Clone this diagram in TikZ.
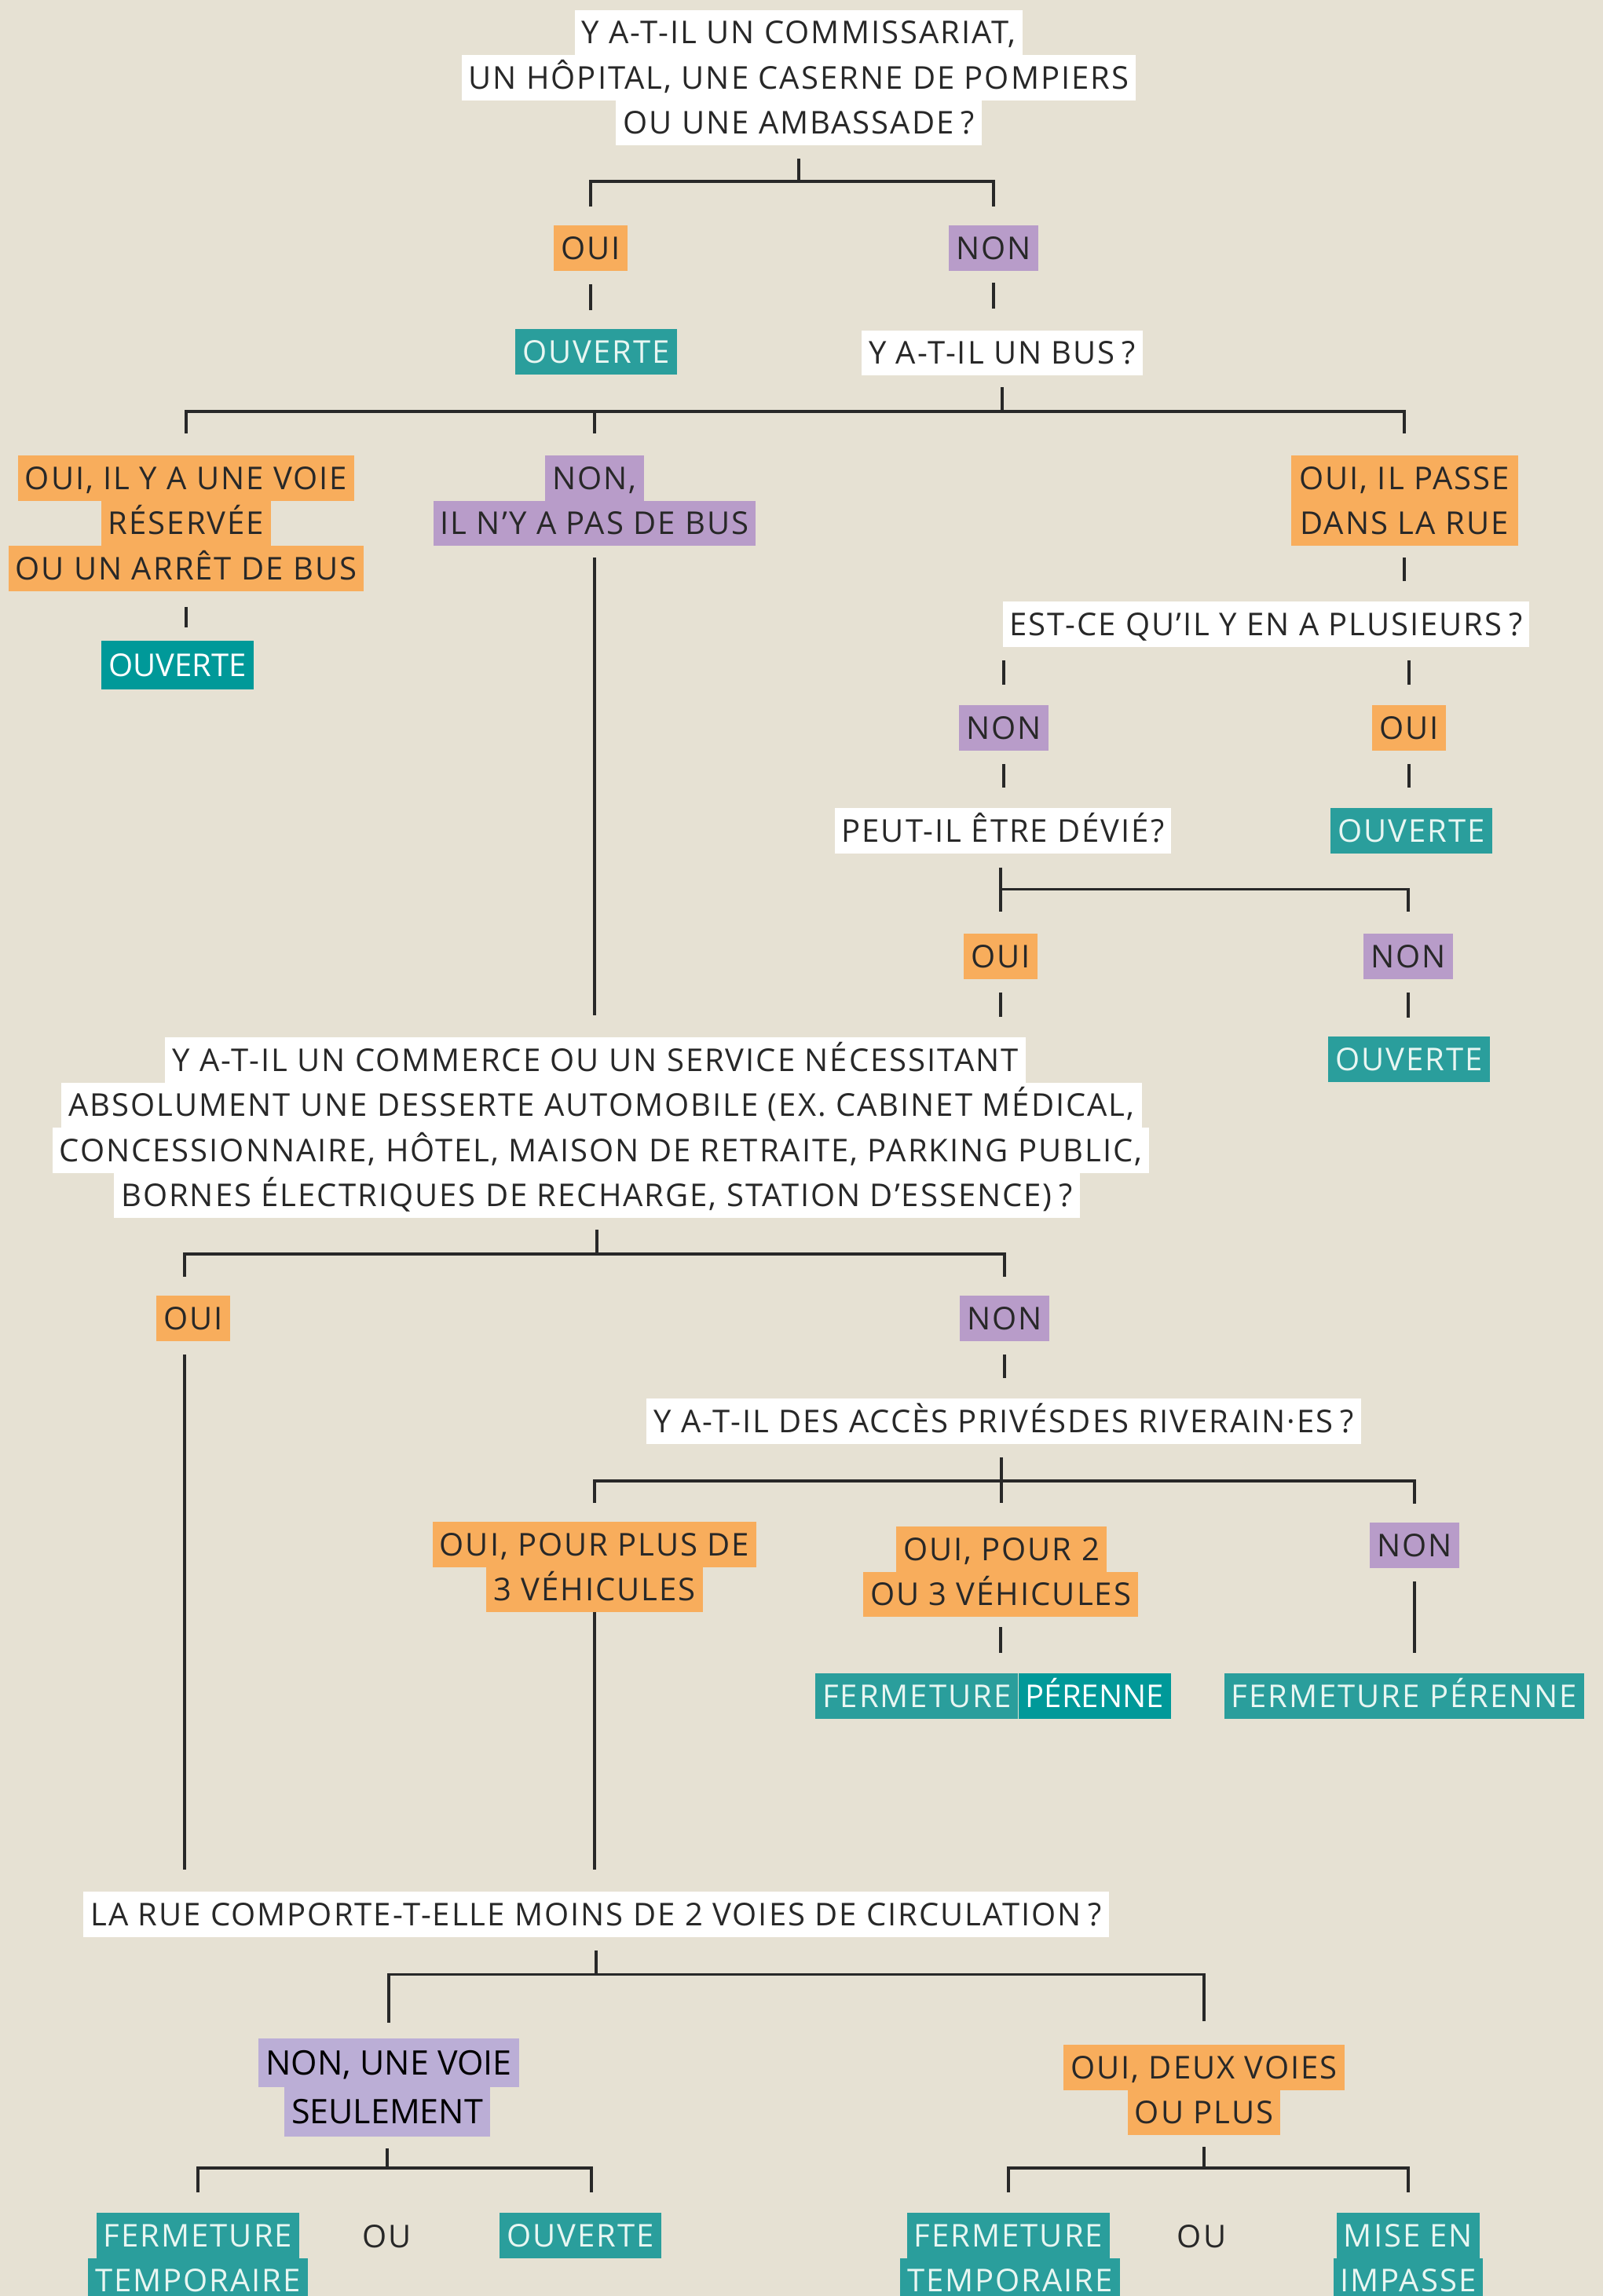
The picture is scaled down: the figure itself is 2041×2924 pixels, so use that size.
\documentclass[tikz,border=0pt]{standalone}
\usepackage{fontspec}
\setmainfont{Open Sans}[LetterSpace=5]
\newfontfamily\plainos{Open Sans}
\newcommand{\qm}{\hspace{0.22em}?}
\definecolor{bg}{RGB}{230,225,211}
\definecolor{ink}{RGB}{40,40,40}
\definecolor{orangeC}{RGB}{248,173,92}
\definecolor{purpleC}{RGB}{184,156,201}
\definecolor{purpleL}{RGB}{187,174,214}
\definecolor{tealC}{RGB}{42,158,156}
\definecolor{tealD}{RGB}{0,153,153}
\definecolor{tealT}{RGB}{232,246,242}
\tikzset{
  lbl/.style={inner xsep=9pt, inner ysep=0pt, minimum height=57.5pt, text height=28.6pt, text depth=0pt, font=\fontsize{40}{48}\selectfont, text=ink},
  wbox/.style={lbl, fill=white},
  obox/.style={lbl, fill=orangeC},
  pbox/.style={lbl, fill=purpleC},
  pboxb/.style={lbl, fill=purpleL, text=black, font=\plainos\fontsize{43}{50}\selectfont, minimum height=62.5pt, text height=30.7pt},
  tbox/.style={lbl, fill=tealC, text=tealT},
  tboxd/.style={lbl, fill=tealD, text=white, font=\plainos\fontsize{40}{48}\selectfont},
  txt/.style={lbl},
  ln/.style={draw=ink, line width=3.2pt},
}
\begin{document}
\begin{tikzpicture}[x=1pt,y=-1pt]
\fill[bg] (0,0) rectangle (2041,2924);
\useasboundingbox (0,0) rectangle (2041,2924);

% title
\node[wbox] (t1) at (1017,41.5) {Y A-T-IL UN COMMISSARIAT,};
\node[wbox] (t2) at (1017,99) {UN HÔPITAL, UNE CASERNE DE POMPIERS};
\node[wbox] (t3) at (1017,156.5) {OU UNE AMBASSADE\qm};

\node[obox] (oui1) at (752,316) {OUI};
\node[pbox] (non1) at (1265,316) {NON};
\node[tbox] (ouv1) at (759,448) {OUVERTE};
\node[wbox] (bus) at (1276,449.5) {Y A-T-IL UN BUS\qm};

\node[obox] (ra1) at (237,609) {OUI, IL Y A UNE VOIE};
\node[obox] (ra2) at (237,666.5) {RÉSERVÉE};
\node[obox] (ra3) at (237,724) {OU UN ARRÊT DE BUS};
\node[tboxd, minimum height=61.5pt] (ouv2) at (226,847) {OUVERTE};

\node[pbox] (nb1) at (757,609) {NON,};
\node[pbox] (nb2) at (757,666.5) {IL N’Y A PAS DE BUS};

\node[obox, minimum width=289pt] (pr1) at (1788,609) {OUI, IL PASSE};
\node[obox, minimum width=289pt] (pr2) at (1788,666.5) {DANS LA RUE};

\node[wbox] (plu) at (1612,795) {EST-CE QU’IL Y EN A PLUSIEURS\qm};
\node[pbox] (non2) at (1278,927) {NON};
\node[obox] (oui2) at (1794,927) {OUI};
\node[wbox] (dev) at (1277,1058) {PEUT-IL ÊTRE DÉVIÉ?};
\node[tbox] (ouv3) at (1797,1058) {OUVERTE};
\node[obox] (oui3) at (1274,1218) {OUI};
\node[pbox] (non3) at (1793,1218) {NON};
\node[tbox] (ouv4) at (1794,1349) {OUVERTE};

\node[wbox] (c1) at (758,1350) {Y A-T-IL UN COMMERCE OU UN SERVICE NÉCESSITANT};
\node[wbox] (c2) at (766,1407.5) {ABSOLUMENT UNE DESSERTE AUTOMOBILE (EX. CABINET MÉDICAL,};
\node[wbox] (c3) at (765,1465) {CONCESSIONNAIRE, HÔTEL, MAISON DE RETRAITE, PARKING PUBLIC,};
\node[wbox] (c4) at (760,1522.5) {BORNES ÉLECTRIQUES DE RECHARGE, STATION D’ESSENCE)\qm};

\node[obox] (oui4) at (246,1679) {OUI};
\node[pbox] (non4) at (1279,1679) {NON};
\node[wbox] (acc) at (1278,1810) {Y A-T-IL DES ACCÈS PRIVÉSDES RIVERAIN·ES\qm};

\node[obox] (pa1) at (757,1967) {OUI, POUR PLUS DE};
\node[obox] (pa2) at (757,2024.5) {3 VÉHICULES};
\node[obox] (pb1) at (1275,1973) {OUI, POUR 2};
\node[obox] (pb2) at (1274,2030.5) {OU 3 VÉHICULES};
\node[pbox] (non5) at (1801,1968) {NON};

\node[tbox, anchor=east] (fa1) at (1296.6,2160) {FERMETURE};
\node[tboxd, anchor=west] (fa2) at (1296.6,2160) {PÉRENNE};
\node[tbox] (fb) at (1788,2160) {FERMETURE PÉRENNE};

\node[wbox] (rue) at (759,2438) {LA RUE COMPORTE-T-ELLE MOINS DE 2 VOIES DE CIRCULATION\qm};

\node[pboxb] (v1) at (495,2627) {NON, UNE VOIE};
\node[pboxb] (v2) at (493,2689.5) {SEULEMENT};
\node[obox] (d1) at (1533,2633) {OUI, DEUX VOIES};
\node[obox] (d2) at (1533,2690.5) {OU PLUS};

\node[tbox] (f1) at (252,2847) {FERMETURE};
\node[tbox] (f2) at (252,2904.5) {TEMPORAIRE};
\node[txt] (ou1) at (492.5,2848) {OU};
\node[tbox] (ov5) at (739,2847) {OUVERTE};
\node[tbox] (g1) at (1284,2847) {FERMETURE};
\node[tbox] (g2) at (1286,2904.5) {TEMPORAIRE};
\node[txt] (ou2) at (1530,2848) {OU};
\node[tbox] (m1) at (1793,2847) {MISE EN};
\node[tbox] (m2) at (1793,2904.5) {IMPASSE};

% connectors
\coordinate (b1) at (0,231);
\coordinate (b2) at (0,524);
\coordinate (b3) at (0,1132.4);
\coordinate (b4) at (0,1597);
\coordinate (b5) at (0,1886);
\coordinate (b6) at (0,2514.8);
\coordinate (b7) at (0,2761);

\draw[ln, shorten <=17pt] (t3.south) -- (t3.south |- b1);
\draw[ln, shorten <=24pt, shorten >=24pt] (oui1.north) -- (oui1.north |- b1) -- (non1.north |- b1) -- (non1.north);
\draw[ln, shorten <=17pt, shorten >=24pt] (oui1.south) -- (oui1.south |- ouv1.north);
\draw[ln, shorten <=15pt, shorten >=28pt] (non1.south) -- (non1.south |- bus.north);

\draw[ln, shorten <=15pt] (bus.south) -- (bus.south |- b2);
\draw[ln, shorten <=28pt, shorten >=28pt] (ra1.north) -- (ra1.north |- b2) -- (pr1.north |- b2) -- (pr1.north);
\draw[ln, shorten >=28pt] (nb1.north |- b2) -- (nb1.north);

\draw[ln, shorten <=20pt, shorten >=17pt] (ra3.south) -- (ra3.south |- ouv2.north);
\draw[ln, shorten <=15pt, shorten >=28pt] (nb2.south) -- (nb2.south |- c1.north);
\draw[ln, shorten <=15pt, shorten >=26pt] (pr2.south) -- (pr2.south |- plu.north);
\draw[ln, shorten <=17pt, shorten >=26pt] (plu.south -| non2.north) -- (non2.north);
\draw[ln, shorten <=17pt, shorten >=26pt] (plu.south -| oui2.north) -- (oui2.north);
\draw[ln, shorten <=17pt, shorten >=26pt] (non2.south) -- (non2.south |- dev.north);
\draw[ln, shorten <=17pt, shorten >=26pt] (oui2.south) -- (oui2.south |- ouv3.north);

\draw[ln, shorten <=18pt, shorten >=28pt] (dev.south -| oui3.north) -- (oui3.north);
\draw[ln, shorten >=28pt] (oui3.north |- b3) -- (non3.north |- b3) -- (non3.north);
\draw[ln, shorten <=17pt, shorten >=26pt] (oui3.south) -- (oui3.south |- c1.north);
\draw[ln, shorten <=17pt, shorten >=24pt] (non3.south) -- (non3.south |- ouv4.north);

\draw[ln, shorten <=15pt] (c4.south) -- (c4.south |- b4);
\draw[ln, shorten <=24pt, shorten >=24pt] ([xshift=-11pt]oui4.north) -- ([xshift=-11pt]oui4.north |- b4) -- (non4.north |- b4) -- (non4.north);
\draw[ln, shorten <=17pt, shorten >=28pt] ([xshift=-11pt]oui4.south) -- ([xshift=-11pt]oui4.south |- rue.north);
\draw[ln, shorten <=17pt, shorten >=26pt] (non4.south) -- (non4.south |- acc.north);

\draw[ln, shorten <=17pt, shorten >=30pt] (acc.south -| pb1.north) -- (pb1.north);
\draw[ln, shorten <=24pt, shorten >=24pt] (pa1.north) -- (pa1.north |- b5) -- (non5.north |- b5) -- (non5.north);
\draw[ln, shorten >=28pt] (pa2.south) -- (pa2.south |- rue.north);
\draw[ln, shorten <=13pt, shorten >=26pt] (pb2.south) -- (pb2.south |- fa1.north);
\draw[ln, shorten <=17pt, shorten >=26pt] (non5.south) -- (non5.south |- fb.north);

\draw[ln, shorten <=17pt] (rue.south) -- (rue.south |- b6);
\draw[ln, shorten <=20pt, shorten >=30pt] (v1.north) -- (v1.north |- b6) -- (d1.north |- b6) -- (d1.north);

\draw[ln, shorten <=15pt] (v2.south) -- (v2.south |- b7);
\draw[ln, shorten <=26pt, shorten >=26pt] (f1.north) -- (f1.north |- b7) -- ([xshift=14pt]ov5.north |- b7) -- ([xshift=14pt]ov5.north);
\draw[ln, shorten <=15pt] (d2.south) -- (d2.south |- b7);
\draw[ln, shorten <=26pt, shorten >=26pt] (g1.north) -- (g1.north |- b7) -- (m1.north |- b7) -- (m1.north);
\end{tikzpicture}
\end{document}
